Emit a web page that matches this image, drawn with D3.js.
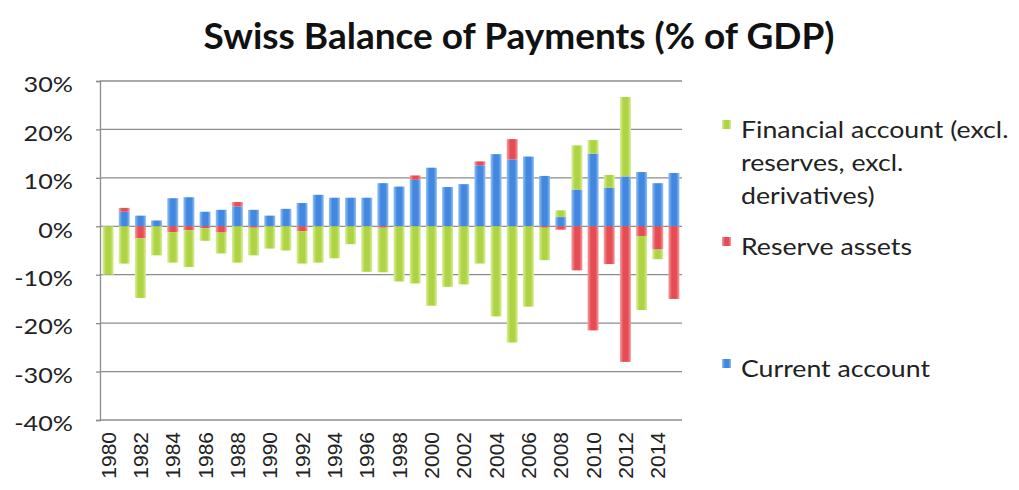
<!DOCTYPE html>
<html>
<head>
<meta charset="utf-8">
<script src="https://cdn.jsdelivr.net/npm/d3@7"></script>
<style>
  html, body { margin: 0; padding: 0; background: #ffffff; }
  svg { display: block; }
</style>
</head>
<body>
<svg id="chart" width="1019" height="490"></svg>
<script>
// Swiss balance of payments components, % of GDP
const years = d3.range(1980, 2016);
const currentAccount = [0, 3.0, 2.2, 1.2, 5.8, 6.0, 3.0, 3.4, 4.1, 3.4, 2.2, 3.6, 4.8, 6.5, 5.9, 5.9, 5.9, 8.9,
  8.2, 9.6, 12.1, 8.1, 8.7, 12.6, 14.9, 13.8, 14.4, 10.4, 1.9, 7.6, 15.0, 8.0, 10.3, 11.2, 8.9, 11.0];
const reserveAssets = [0, 0.8, -2.5, 0, -1.2, -0.8, -0.4, -1.3, 0.9, -0.3, 0, 0, -1.0, 0, 0, 0, 0, -0.3,
  0, 0.9, 0, 0, 0, 0.8, 0, 4.2, 0, -0.3, -0.7, -9.1, -21.5, -7.8, -28.0, -2.0, -4.8, -15.0];
const financialAccount = [-10.0, -7.7, -12.3, -6.0, -6.3, -7.6, -2.6, -4.3, -7.5, -5.7, -4.6, -5.0, -6.7, -7.5,
  -6.6, -3.7, -9.4, -9.2, -11.4, -11.8, -16.4, -12.5, -12.0, -7.7, -18.6, -24.0, -16.6, -6.7, 1.4, 9.1, 2.8,
  2.6, 16.4, -15.3, -2.0, 0];
const yTicks = [-40, -30, -20, -10, 0, 10, 20, 30];
const seriesKeys = ["current", "reserves", "financial"];
const legendLabels = {
  financial: ["Financial account (excl.", "reserves, excl.", "derivatives)"],
  reserves: ["Reserve assets"],
  current: ["Current account"]
};

const palette = {
  current: { core: "#4287e0", light: "#93c1f3" },
  reserves: { core: "#e64c53", light: "#f4a0a2" },
  financial: { core: "#aed444", light: "#dbef9c" }
};

const rows = years.map((y, i) => ({
  year: y,
  current: currentAccount[i],
  reserves: reserveAssets[i],
  financial: financialAccount[i]
}));

const svg = d3.select("#chart");
const plot = { left: 100, right: 682, top: 81, bottom: 420 };

const x = d3.scaleBand()
  .domain(years)
  .range([plot.left, plot.right])
  .paddingInner(0.32)
  .paddingOuter(0.16);

const y = d3.scaleLinear()
  .domain([-40, 30])
  .range([plot.bottom, plot.top]);

// gradients for the bar fills
const defs = svg.append("defs");
seriesKeys.forEach(k => {
  const g = defs.append("linearGradient")
    .attr("id", "grad-" + k)
    .attr("x1", "0").attr("x2", "1").attr("y1", "0").attr("y2", "0");
  g.append("stop").attr("offset", "0").attr("stop-color", palette[k].light);
  g.append("stop").attr("offset", "0.32").attr("stop-color", palette[k].core);
  g.append("stop").attr("offset", "0.72").attr("stop-color", palette[k].core);
  g.append("stop").attr("offset", "1").attr("stop-color", palette[k].light);
});

// title
svg.append("text")
  .attr("x", 519)
  .attr("y", 49)
  .attr("text-anchor", "middle")
  .style("font-family", "Lato, 'Open Sans', sans-serif")
  .style("font-weight", 700)
  .style("font-size", "37px")
  .attr("fill", "#111")
  .text("Swiss Balance of Payments (% of GDP)");

// gridlines
svg.append("g")
  .selectAll("line")
  .data(yTicks)
  .join("line")
  .attr("x1", plot.left)
  .attr("x2", plot.right)
  .attr("y1", d => y(d))
  .attr("y2", d => y(d))
  .attr("stroke", "#8c8c8c")
  .attr("stroke-width", 1.3);

// y axis
const yAxis = svg.append("g")
  .attr("transform", `translate(${plot.left},0)`)
  .call(d3.axisLeft(y).tickValues(yTicks).tickSize(4).tickPadding(0).tickFormat(d => d + "%"));
yAxis.select(".domain").attr("stroke", "#8c8c8c").attr("stroke-width", 1.3);
yAxis.selectAll(".tick line").attr("stroke", "#8c8c8c").attr("stroke-width", 1.3);
yAxis.selectAll(".tick text")
  .attr("x", 0)
  .attr("dy", "0.32em")
  .attr("transform", "translate(-27,4) scale(1.2,1)")
  .style("font-family", "Lato, sans-serif")
  .style("font-size", "21px")
  .attr("fill", "#222");

// stacked bars (positives stack up, negatives stack down)
const stacked = d3.stack()
  .keys(seriesKeys)
  .offset(d3.stackOffsetDiverging)(rows);

svg.append("g")
  .selectAll("g")
  .data(stacked)
  .join("g")
  .attr("fill", d => `url(#grad-${d.key})`)
  .selectAll("rect")
  .data(d => d)
  .join("rect")
  .attr("x", d => x(d.data.year))
  .attr("width", x.bandwidth())
  .attr("y", d => y(Math.max(d[0], d[1])))
  .attr("height", d => Math.abs(y(d[0]) - y(d[1])));

// x axis labels (every other year)
const xAxis = svg.append("g")
  .attr("transform", `translate(0,${plot.bottom})`)
  .call(d3.axisBottom(x).tickValues(years.filter(yr => yr % 2 === 0)).tickSize(0).tickPadding(0));
xAxis.select(".domain").remove();
xAxis.selectAll(".tick text")
  .attr("transform", "rotate(-90)")
  .attr("x", -12)
  .attr("y", 0)
  .attr("dy", "0.36em")
  .attr("text-anchor", "end")
  .style("font-family", "'Liberation Sans', Arial, sans-serif")
  .style("font-size", "21px")
  .attr("fill", "#222");

// legend
const legendItems = [
  { key: "financial", y: 132 },
  { key: "reserves", y: 249 },
  { key: "current", y: 371 }
];
const legend = svg.append("g");
legendItems.forEach(item => {
  legend.append("rect")
    .attr("x", 722)
    .attr("y", item.y - 12)
    .attr("width", 9)
    .attr("height", 9)
    .attr("fill", `url(#grad-${item.key})`);
  const t = legend.append("text")
    .attr("transform", `translate(741,${item.y + 6}) scale(1.16,1)`)
    .style("font-family", "Lato, sans-serif")
    .style("font-size", "23px")
    .attr("fill", "#222");
  legendLabels[item.key].forEach((line, i) => {
    t.append("tspan")
      .attr("x", 0)
      .attr("dy", i === 0 ? 0 : 33)
      .text(line);
  });
});
</script>
</body>
</html>
